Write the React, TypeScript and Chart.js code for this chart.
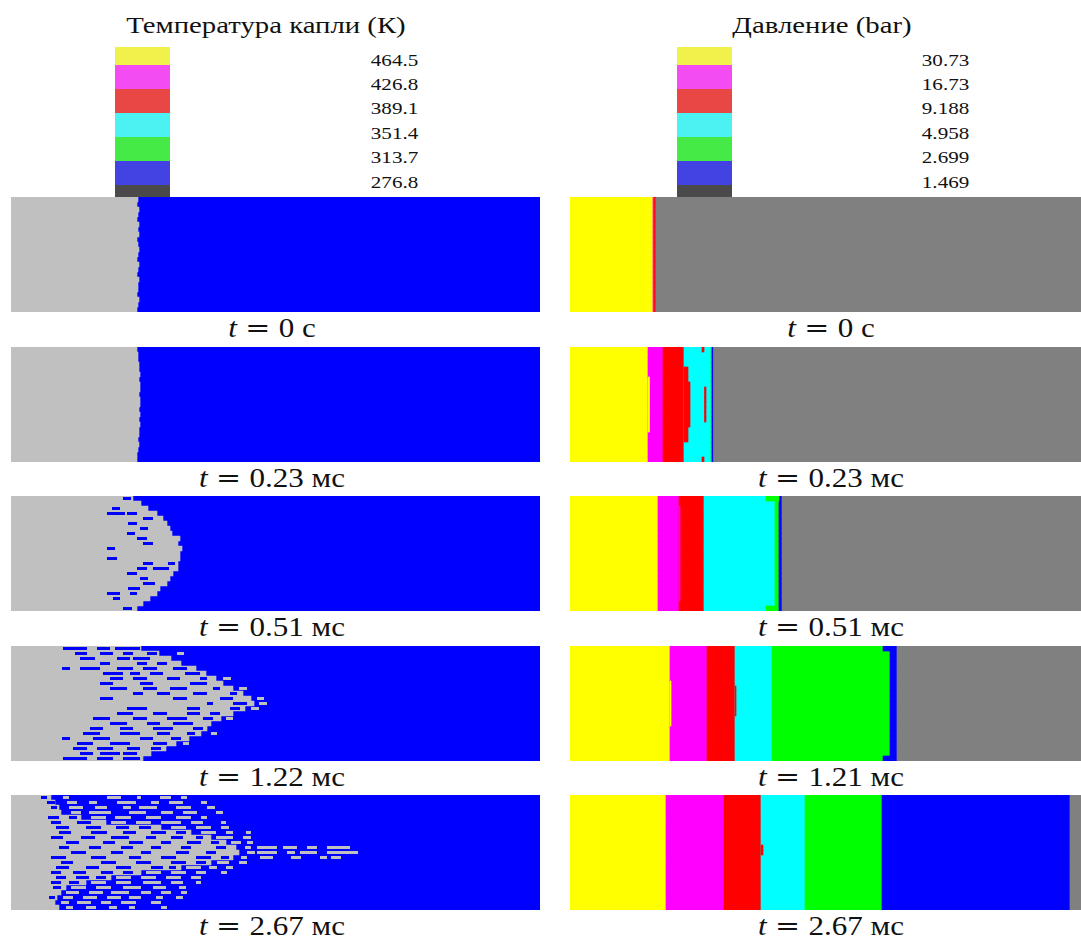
import React, { useEffect, useRef } from "react";
import { Chart, registerables } from "chart.js";

Chart.register(...registerables);

// ---------------- data ----------------
const TITLE_T = "Температура капли (К)";
const TITLE_P = "Давление (bar)";
const TEMP_LEVELS = ["464.5", "426.8", "389.1", "351.4", "313.7", "276.8"];
const PRESS_LEVELS = ["30.73", "16.73", "9.188", "4.958", "2.699", "1.469"];
const LEGEND_COLORS = ["#f1f14c", "#f24cf2", "#e94646", "#4cf2f2", "#46ea46", "#4343e4", "#4a4a4a"];

const TIMES_T = ["0 с", "0.23 мс", "0.51 мс", "1.22 мс", "2.67 мс"];
const TIMES_P = ["0 с", "0.23 мс", "0.51 мс", "1.21 мс", "2.67 мс"];

const FIELD_BLUE = "#0000ff";
const FIELD_GRAY = "#c0c0c0";
const BAND_COLORS = ["#ffff00", "#ff00ff", "#ff0000", "#00ffff", "#00ff00", "#0000ff", "#808080"];

// pressure: right edges of yellow, magenta, red, cyan, green, blue bands (gray to the end), domain 511
const EDGES_0 = [83, 84.5, 86, 86, 86, 86];
const EDGES_1 = [78, 93, 114, 141, 142, 143.5];
const EDGES_2 = [88, 109, 134, 205, 209, 212];
const EDGES_3 = [100, 137, 165, 202, 320, 327];
const EDGES_4 = [96, 154, 191, 235, 312, 500];
// local deviations of the pressure bands: [rowFrom, rowTo, from, to, band]
const PATCH_0 = [];
const PATCH_1 = [[4, 18, 114, 118, 2], [7, 15, 118, 120, 2], [6, 16, 78, 79.5, 0], [8, 14, 134.5, 136, 2], [0, 0, 132, 134, 2], [22, 22, 132, 134, 2]];
const PATCH_2 = [[0, 0, 196, 205, 4], [22, 22, 196, 205, 4], [0, 0, 205, 209, 4], [2, 20, 109, 110, 1]];
const PATCH_3 = [[0, 0, 313, 320, 5], [22, 22, 313, 320, 5], [7, 15, 100, 101, 0], [8, 13, 165, 166, 2]];
const PATCH_4 = [[10, 11, 191, 193, 2]];

// temperature field: 23 rows; front = gray extent of each row (domain 529)
const ROWS = ["r0","r1","r2","r3","r4","r5","r6","r7","r8","r9","r10","r11","r12","r13","r14","r15","r16","r17","r18","r19","r20","r21","r22"];

const FRONT_0 = [127,126,128,127,126,128,127,128,126,127,128,127,126,128,127,126,128,127,127,126,128,127,126];
const FRONT_1 = [126,127,127,128,128,129,128,129,129,128,129,129,128,129,128,129,128,128,127,128,127,126,126];
const FRONT_2 = [122,130,137,146,152,156,159,161,169,167,171,169,169,167,167,162,159,156,149,146,139,132,126];
const FRONT_3 = [130,148,160,170,185,195,205,212,222,232,240,243,234,222,210,200,196,190,178,165,155,140,132];
const FRONT_4 = [40,44,48,50,70,95,150,180,200,215,225,228,222,200,170,130,100,75,55,50,46,44,48];

// blue drops inside the gray region: [row, from, to]
const DROPS_2 = [[0,112,120],[2,101,109],[3,96,114],[3,116,126],[4,132,142],[5,117,126],[6,129,137],[7,116,124],[8,126,136],[9,132,142],[10,96,104],[12,96,106],[13,132,142],[13,157,164],[14,126,136],[14,142,158],[15,116,126],[16,129,137],[17,132,144],[18,117,129],[19,96,109],[19,119,126],[20,102,109],[22,112,121]];
const DROPS_3 = [
  [0,52,76],[0,86,99],[0,104,129],
  [1,64,76],[1,89,102],[1,112,122],[1,136,146],
  [2,69,84],[2,106,119],[2,122,139],
  [3,89,99],[3,126,136],[3,146,156],
  [4,51,59],[4,69,89],[4,106,122],[4,132,146],[4,162,176],
  [5,92,112],[5,119,129],[5,139,152],[5,174,189],
  [6,99,112],[6,122,136],[6,156,169],[6,189,196],
  [7,89,102],[7,129,142],[7,179,196],
  [8,99,116],[8,132,146],[8,159,176],[8,202,209],
  [9,122,132],[9,146,159],[9,182,196],[9,219,226],
  [10,89,102],[10,162,176],[10,209,222],
  [11,196,202],[11,222,236],
  [12,116,136],[12,176,189],[12,219,229],
  [13,106,122],[13,142,156],[13,176,189],[13,199,209],
  [14,82,99],[14,122,136],[14,156,176],[14,192,202],
  [15,99,116],[15,136,149],[15,162,182],
  [16,79,92],[16,109,122],[16,142,162],[16,182,192],
  [17,72,89],[17,109,129],[17,146,159],[17,176,184],
  [18,51,59],[18,82,99],[18,129,142],[18,160,170],
  [19,66,82],[19,99,119],[19,142,156],
  [20,62,76],[20,86,102],[20,116,129],[20,140,150],
  [21,69,82],[21,89,109],[21,112,126],
  [22,52,76],[22,86,102],[22,112,129]
];
const DROPS_4 = [
  [0,30,36],[1,36,44],[2,40,46],
  [4,37,48],[4,58,66],
  [5,40,50],[5,66,80],
  [6,45,58],[6,75,90],[6,105,118],[6,128,140],
  [7,48,60],[7,80,96],[7,112,125],[7,140,155],[7,165,175],
  [8,40,52],[8,70,84],[8,100,118],[8,135,145],[8,160,172],[8,185,192],
  [9,55,68],[9,92,104],[9,118,132],[9,150,160],[9,176,190],[9,200,208],
  [10,48,58],[10,78,90],[10,110,122],[10,140,150],[10,170,180],[10,205,215],
  [11,60,75],[11,100,112],[11,130,140],[11,165,178],[11,195,205],
  [12,40,55],[12,80,95],[12,118,130],[12,150,165],[12,185,200],[12,210,218],
  [13,50,62],[13,90,105],[13,125,140],[13,160,175],[13,185,195],
  [14,45,58],[14,75,88],[14,105,120],[14,140,152],[14,158,165],
  [15,40,50],[15,62,75],[15,90,102],[15,112,122],
  [16,45,55],[16,65,78],[16,85,95],
  [17,40,50],[17,58,68],
  [18,42,50],[20,38,44]
];

// gray islands beyond the front: [row, from, to]
const ISLANDS_3 = [[1,166,173],[6,212,220],[8,228,236],[10,246,253],[11,248,256],[12,240,248],[14,215,222],[17,200,206],[19,172,178]];
const ISLANDS_4 = [
  [0,52,58],[0,96,110],[0,126,130],[0,149,160],[0,170,176],
  [1,56,66],[1,78,86],[1,106,125],[1,140,148],[1,158,172],[1,190,196],
  [2,58,72],[2,84,96],[2,112,120],[2,128,146],[2,165,180],[2,196,204],
  [3,60,70],[3,78,100],[3,118,135],[3,150,162],[3,172,186],[3,205,212],
  [4,80,95],[4,104,120],[4,135,150],[4,165,180],[4,190,196],
  [5,100,115],[5,125,140],[5,150,170],[5,180,192],[5,210,215],
  [6,160,175],[6,185,200],[6,210,218],
  [7,190,205],[7,215,222],[7,235,240],
  [8,205,222],[8,232,240],
  [9,220,230],[9,236,242],
  [10,234,240],[10,246,266],[10,272,286],[10,296,306],[10,316,339],
  [11,236,244],[11,246,266],[11,276,284],[11,289,306],[11,316,347],
  [12,230,236],[12,249,262],[12,280,290],[12,309,316],[12,320,330],
  [13,206,218],[13,228,236],
  [14,175,190],[14,198,206],[14,215,222],
  [15,135,150],[15,160,175],[15,185,195],[15,210,216],
  [16,105,120],[16,130,145],[16,155,170],[16,180,190],
  [17,80,95],[17,105,120],[17,132,150],[17,160,172],[17,185,190],
  [18,60,75],[18,85,100],[18,112,130],[18,142,155],[18,168,175],
  [19,55,68],[19,78,92],[19,100,118],[19,130,140],[19,150,160],[19,170,176],
  [20,52,62],[20,72,86],[20,96,110],[20,118,130],[20,145,152],[20,165,172],
  [21,50,58],[21,66,80],[21,90,100],[21,110,125],[21,140,150],
  [22,55,62],[22,75,85],[22,98,106],[22,118,124],[22,150,156]
];

const FIELD_PANELS = [
  { front: FRONT_0, drops: [], islands: [] },
  { front: FRONT_1, drops: [], islands: [] },
  { front: FRONT_2, drops: DROPS_2, islands: [] },
  { front: FRONT_3, drops: DROPS_3, islands: ISLANDS_3 },
  { front: FRONT_4, drops: DROPS_4, islands: ISLANDS_4 },
];
const BAND_PANELS = [
  { edges: EDGES_0, patches: PATCH_0 },
  { edges: EDGES_1, patches: PATCH_1 },
  { edges: EDGES_2, patches: PATCH_2 },
  { edges: EDGES_3, patches: PATCH_3 },
  { edges: EDGES_4, patches: PATCH_4 },
];

const DOMAIN_T = 529;
const DOMAIN_P = 511;

// ---------------- layout ----------------
const PANEL_TOPS = [197, 347, 496, 646, 795];
const PANEL_H = 115;
const LEFT_X = 11, LEFT_W = 529;
const RIGHT_X = 570, RIGHT_W = 511;
const SERIF = '"Liberation Serif", "Times New Roman", serif';

const baseOptions = (domain) => ({
  indexAxis: "y",
  animation: false,
  responsive: false,
  maintainAspectRatio: false,
  layout: { padding: 0 },
  plugins: { legend: { display: false }, tooltip: { enabled: false } },
  scales: {
    x: { type: "linear", min: 0, max: domain, display: false },
    y: { type: "category", display: false },
  },
});
const common = { grouped: false, categoryPercentage: 1, borderWidth: 0 };

function FieldPanel({ x, y, w, h, front, drops, islands }) {
  const ref = useRef(null);
  useEffect(() => {
    const toObj = (list) => list.map(([r, a, b]) => ({ y: ROWS[r], x: [a, b] }));
    const chart = new Chart(ref.current, {
      type: "bar",
      data: {
        labels: ROWS,
        datasets: [
          { ...common, label: "liquid", order: 4, data: ROWS.map(() => [0, DOMAIN_T]), backgroundColor: FIELD_BLUE, barPercentage: 1 },
          { ...common, label: "front", order: 3, data: front.map((f) => [0, f]), backgroundColor: FIELD_GRAY, barPercentage: 1 },
          { ...common, label: "drops", order: 2, data: toObj(drops), backgroundColor: FIELD_BLUE, barPercentage: 0.6 },
          { ...common, label: "islands", order: 1, data: toObj(islands), backgroundColor: FIELD_GRAY, barPercentage: 0.6 },
        ],
      },
      options: baseOptions(DOMAIN_T),
    });
    return () => chart.destroy();
  }, []);
  return <canvas ref={ref} width={w} height={h} style={{ position: "absolute", left: x, top: y, width: w, height: h }} />;
}

function BandPanel({ x, y, w, h, edges, patches }) {
  const ref = useRef(null);
  useEffect(() => {
    const bounds = [0, ...edges, DOMAIN_P];
    const bandSets = BAND_COLORS.map((c, i) => ({
      ...common,
      label: "band" + i,
      order: 10 - i,
      data: ROWS.map(() => [bounds[i], bounds[i + 1]]),
      backgroundColor: c,
      barPercentage: 1,
    }));
    const pts = [];
    const cols = [];
    patches.forEach(([r0, r1, a, b, band]) => {
      for (let r = r0; r <= r1; r++) {
        pts.push({ y: ROWS[r], x: [a, b] });
        cols.push(BAND_COLORS[band]);
      }
    });
    const chart = new Chart(ref.current, {
      type: "bar",
      data: {
        labels: ROWS,
        datasets: [...bandSets, { ...common, label: "patches", order: 0, data: pts, backgroundColor: cols, barPercentage: 1 }],
      },
      options: baseOptions(DOMAIN_P),
    });
    return () => chart.destroy();
  }, []);
  return <canvas ref={ref} width={w} height={h} style={{ position: "absolute", left: x, top: y, width: w, height: h }} />;
}

function Legend({ x, valueRight, levels }) {
  const heights = [18, 24, 24, 24, 24, 24, 12];
  let top = 47;
  const sw = heights.map((hh, i) => {
    const el = <div key={i} style={{ position: "absolute", left: x, top, width: 55, height: hh, background: LEGEND_COLORS[i] }} />;
    top += hh;
    return el;
  });
  const centers = [60, 84, 108, 133, 157, 182];
  return (
    <>
      {sw}
      {levels.map((lv, i) => (
        <div key={"l" + i} style={{ position: "absolute", right: 1081 - valueRight, top: centers[i], transform: "translateY(-50%) scaleX(1.24)", transformOrigin: "right center", font: `17px ${SERIF}`, lineHeight: 1, color: "#111" }}>
          {lv}
        </div>
      ))}
    </>
  );
}

function TimeLabel({ cx, cy, text }) {
  return (
    <div style={{ position: "absolute", left: cx, top: cy, transform: "translate(-50%,-50%) scaleX(1.15)", font: `27px ${SERIF}`, lineHeight: 1, whiteSpace: "nowrap", color: "#111" }}>
      <i>t</i>
      <span style={{ margin: "0 0.28em", fontFamily: '"DejaVu Serif", serif', fontSize: 26 }}>=</span>
      {text}
    </div>
  );
}

const titleStyle = { position: "absolute", top: 25, transform: "translate(-50%,-50%) scaleX(1.25)", font: `23px ${SERIF}`, lineHeight: 1, whiteSpace: "nowrap", color: "#111" };

export default function App() {
  return (
    <div style={{ position: "absolute", left: 0, top: 0, width: 1081, height: 937, background: "#fff", overflow: "hidden" }}>
      <div style={{ ...titleStyle, left: 266 }}>{TITLE_T}</div>
      <div style={{ ...titleStyle, left: 822 }}>{TITLE_P}</div>
      <Legend x={115} valueRight={418} levels={TEMP_LEVELS} />
      <Legend x={677} valueRight={969} levels={PRESS_LEVELS} />
      {FIELD_PANELS.map((p, i) => (
        <FieldPanel key={"f" + i} x={LEFT_X} y={PANEL_TOPS[i]} w={LEFT_W} h={PANEL_H} front={p.front} drops={p.drops} islands={p.islands} />
      ))}
      {BAND_PANELS.map((b, i) => (
        <BandPanel key={"p" + i} x={RIGHT_X} y={PANEL_TOPS[i]} w={RIGHT_W} h={PANEL_H} edges={b.edges} patches={b.patches} />
      ))}
      {TIMES_T.map((t, i) => (
        <TimeLabel key={"tl" + i} cx={272} cy={PANEL_TOPS[i] + PANEL_H + 16} text={t} />
      ))}
      {TIMES_P.map((t, i) => (
        <TimeLabel key={"tr" + i} cx={831} cy={PANEL_TOPS[i] + PANEL_H + 16} text={t} />
      ))}
    </div>
  );
}
